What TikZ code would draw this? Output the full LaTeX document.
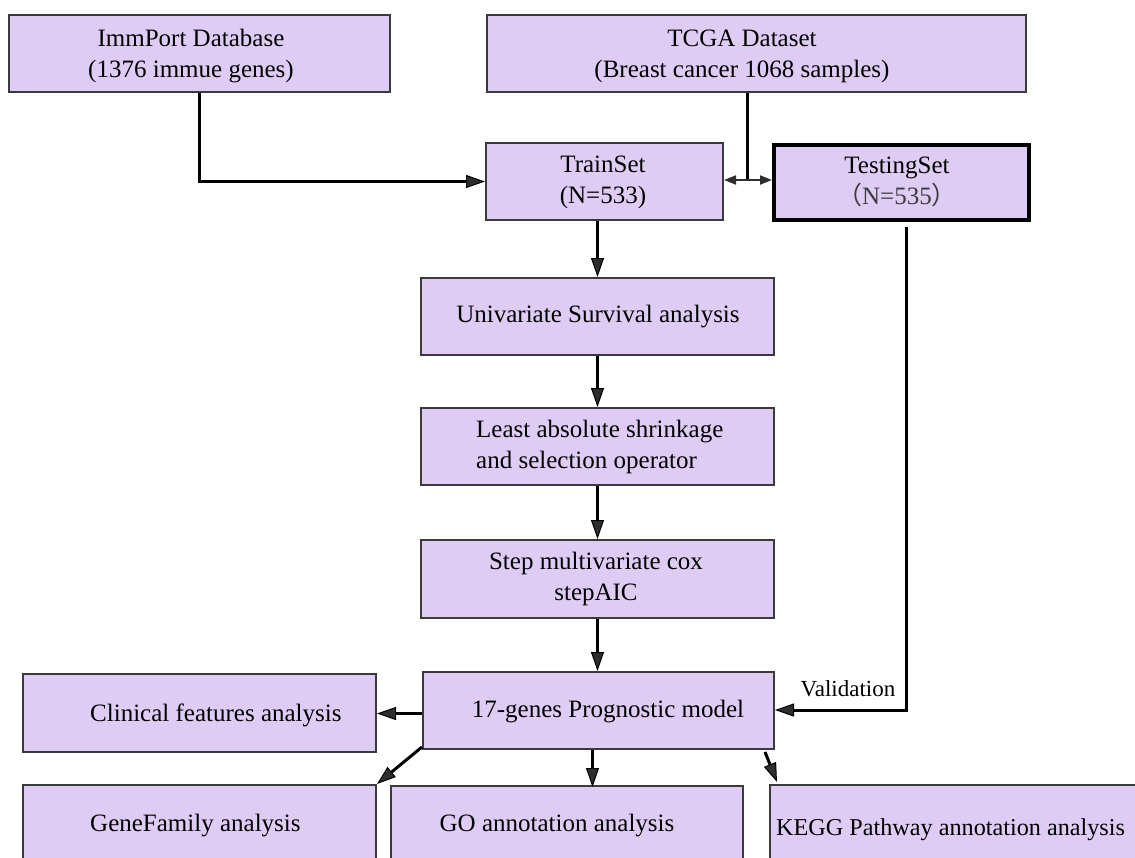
\documentclass[tikz,border=0pt]{standalone}
\usepackage{fontspec}
\setmainfont{Liberation Serif}
\newfontfamily\cjk{Noto Sans CJK SC}
\usetikzlibrary{arrows.meta,calc}
\definecolor{boxfill}{HTML}{DFCCF5}
\definecolor{boxline}{HTML}{3A3A3A}
\definecolor{tipfill}{HTML}{2E2E2E}
\definecolor{softtext}{HTML}{3C3C3C}
\tikzset{
  flowbox/.style={draw=boxline, fill=boxfill, line width=2pt, inner sep=0pt, anchor=north west},
  txt/.style={font=\fontsize{25}{31}\selectfont, align=center, inner sep=0pt},
  arr/.style={line width=3pt, draw=black, -{Triangle[length=19pt,width=13pt,line width=1pt,fill=tipfill]}},
  dblarr/.style={line width=2pt, draw=tipfill, {Triangle[length=12pt,width=9pt,fill=tipfill]}-{Triangle[length=12pt,width=9pt,fill=tipfill]}},
  plain/.style={line width=3pt, draw=black}
}
\begin{document}
\begin{tikzpicture}[x=1pt,y=-1pt]
\clip (0,0) rectangle (1135,857);
% boxes: (x1,y1) width height
\node[flowbox, minimum width=381pt, minimum height=77pt] (imm) at (8,14) {};
\node[flowbox, minimum width=539pt, minimum height=77pt] (tcga) at (486,14) {};
\node[flowbox, minimum width=237pt, minimum height=77pt] (train) at (485,142) {};
\node[flowbox, minimum width=255pt, minimum height=75pt, draw=black, line width=3.5pt] (test) at (772,143) {};
\node[flowbox, minimum width=353pt, minimum height=77pt] (uni) at (420,277) {};
\node[flowbox, minimum width=353pt, minimum height=77pt] (lasso) at (420,407) {};
\node[flowbox, minimum width=353pt, minimum height=78pt] (step) at (420,539) {};
\node[flowbox, minimum width=351pt, minimum height=77pt] (g17) at (422,671) {};
\node[flowbox, minimum width=353pt, minimum height=78pt] (clin) at (22,673) {};
\node[flowbox, minimum width=353pt, minimum height=90pt] (gene) at (22,784) {};
\node[flowbox, minimum width=352pt, minimum height=90pt] (go) at (390,785) {};
\node[flowbox, minimum width=380pt, minimum height=90pt] (kegg) at (769,784) {};
% texts
\node[txt] (immt) at (191,56) {ImmPort Database\\(1376 immue genes)};
\node[txt] (tcgat) at (742,56) {TCGA Dataset\\(Breast cancer 1068 samples)};
\node[txt] (traint) at (603,182) {TrainSet\\(N=533)};
\node[txt] (testt) at (897,182) {TestingSet\\{\color{softtext}{\cjk （}N=535{\cjk ）}}};
\node[txt] (unit) at (598,317) {Univariate Survival analysis};
\node[txt, align=left, anchor=west] (lassot) at (476,447) {Least absolute shrinkage\\and selection operator};
\node[txt] (stept) at (596,579) {Step multivariate cox\\stepAIC};
\node[txt] (g17t) at (608,712) {17-genes Prognostic model};
\node[txt, anchor=west] (clint) at (90,715) {Clinical features analysis};
\node[txt, anchor=west] (genet) at (90,826) {GeneFamily analysis};
\node[txt] (got) at (557,826) {GO annotation analysis};
\node[txt, anchor=west, font=\fontsize{24.2}{30}\selectfont] (keggt) at (776,830) {KEGG Pathway annotation analysis};
\node[txt, font=\fontsize{23}{28}\selectfont] (valt) at (848,689) {Validation};
% connectors
\coordinate (split) at (747,180);
\coordinate (vcorner) at (906,710);
\draw[arr] (imm.south) |- (train.west);
\draw[plain] (tcga.south -| split) -- (split);
\draw[dblarr] (train.east |- split) -- (test.west |- split);
\draw[arr] (train.south -| uni.north) -- (uni.north);
\draw[arr] (uni.south) -- (lasso.north);
\draw[arr] (lasso.south) -- (step.north);
\draw[arr] (step.south) -- (step.south |- g17.north);
\draw[arr] ($(test.south -| vcorner)+(0,5)$) -- (vcorner) -- (vcorner -| g17.east);
\draw[arr] ($(g17.west)+(0,3)$) -- ($(g17.west -| clin.east)+(0,3)$);
\draw[arr] ($(g17.south west)+(0,-3)$) -- (gene.north east);
\draw[arr] ($(g17.south)+(-6,0)$) -- ($(g17.south)+(-6,37)$);
\draw[arr] ($(g17.south east)+(-10,2)$) -- ($(kegg.north west)+(8,-2)$);
\end{tikzpicture}
\end{document}
